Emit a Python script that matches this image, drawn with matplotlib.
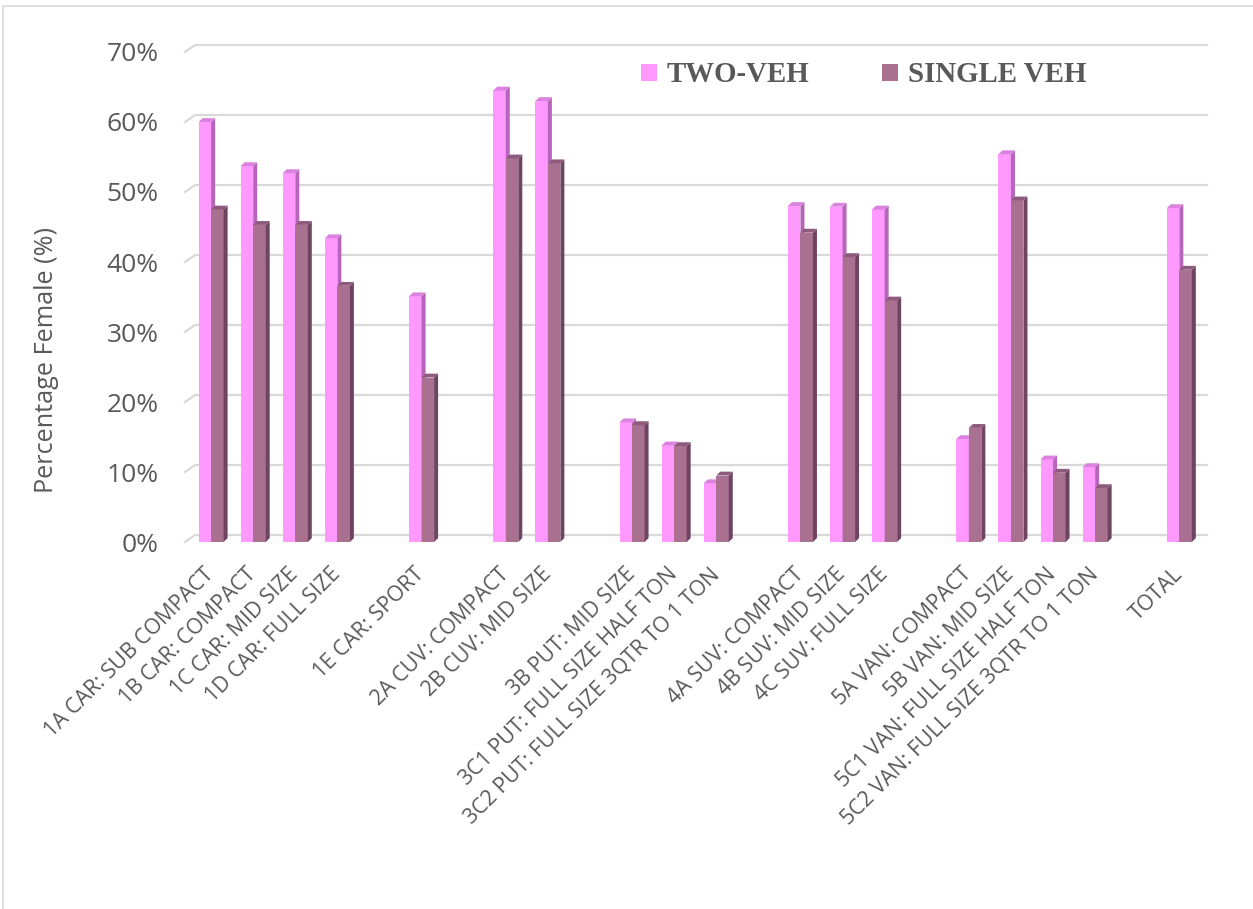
import numpy as np
import matplotlib
matplotlib.use("Agg")
import matplotlib.pyplot as plt
from matplotlib.patches import Polygon, Patch
from matplotlib.lines import Line2D

# categories grouped; one empty slot is left between groups
groups = [
    ["1A CAR: SUB COMPACT", "1B CAR: COMPACT", "1C CAR: MID SIZE", "1D CAR: FULL SIZE"],
    ["1E CAR: SPORT"],
    ["2A CUV: COMPACT", "2B CUV: MID SIZE"],
    ["3B PUT: MID SIZE", "3C1 PUT: FULL SIZE HALF TON", "3C2 PUT: FULL SIZE 3QTR TO 1 TON"],
    ["4A SUV: COMPACT", "4B SUV: MID SIZE", "4C SUV: FULL SIZE"],
    ["5A VAN: COMPACT", "5B VAN: MID SIZE", "5C1 VAN: FULL SIZE HALF TON", "5C2 VAN: FULL SIZE 3QTR TO 1 TON"],
    ["TOTAL"],
]
two_veh = [60.0, 53.7, 52.7, 43.4, 35.1, 64.5, 63.0, 17.1, 13.8, 8.4,
           48.0, 47.9, 47.5, 14.7, 55.4, 11.8, 10.7, 47.7]
single_veh = [47.5, 45.3, 45.3, 36.6, 23.5, 54.8, 54.1, 16.7, 13.7, 9.5,
              44.2, 40.7, 34.5, 16.3, 48.8, 9.9, 7.7, 38.9]
yticks = [0, 10, 20, 30, 40, 50, 60, 70]

labels, pos = [], []
slot = 0
for g in groups:
    for name in g:
        labels.append(name)
        pos.append(slot)
        slot += 1
    slot += 1
pos = np.array(pos, dtype=float)

FONT = "Open Sans"
TXT = "#595959"
GRID = "#D9D9D9"

fig = plt.figure(figsize=(12.53, 9.09), dpi=100)
ax = fig.add_axes([185 / 1253, (909 - 542) / 909, 1012 / 1253, 490 / 909])
x0, x1 = -0.62, 23.42
ax.set_xlim(x0, x1)
ax.set_ylim(0, 70)

# back wall gridlines (3d look)
gdx, gdy = 0.24, 1.0
for v in yticks:
    ax.add_line(Line2D([x0, x0 + gdx, x1 + gdx], [v, v + gdy, v + gdy],
                       color=GRID, lw=1.6, clip_on=False, zorder=1))

bw = 0.297
sdx, sdy = 0.095, 0.55


def bar3d(xl, h, front, side, top, z):
    ax.add_patch(Polygon([[xl, 0], [xl + bw, 0], [xl + bw, h], [xl, h]],
                         closed=True, facecolor=front, edgecolor="none", zorder=z, clip_on=False))
    ax.add_patch(Polygon([[xl + bw, 0], [xl + bw + sdx, sdy], [xl + bw + sdx, h + sdy], [xl + bw, h]],
                         closed=True, facecolor=side, edgecolor="none", zorder=z, clip_on=False))
    ax.add_patch(Polygon([[xl, h], [xl + bw, h], [xl + bw + sdx, h + sdy], [xl + sdx, h + sdy]],
                         closed=True, facecolor=top, edgecolor="none", zorder=z, clip_on=False))


for i, p in enumerate(pos):
    bar3d(p - bw, two_veh[i], "#FF99FF", "#B565BA", "#DA82DD", 3)
    bar3d(p, single_veh[i], "#A9718F", "#6F4462", "#8E5A7C", 4)

for s in ax.spines.values():
    s.set_visible(False)

ax.set_yticks(yticks)
ax.set_yticklabels([f"{v}%" for v in yticks], fontsize=19, color=TXT, family=FONT)
ax.tick_params(axis="y", length=0, pad=19)
ax.set_xticks(pos)
ax.set_xticklabels(labels, rotation=45, ha="right", va="center", rotation_mode="anchor",
                   fontsize=15.4, color=TXT, family=FONT)
ax.tick_params(axis="x", length=0, pad=21)

ax.set_ylabel("Percentage Female (%)", fontsize=18.2, color=TXT, family=FONT)
ax.yaxis.set_label_coords(-0.1245, 0.371)

handles = [Patch(facecolor="#FF99FF", label="TWO-VEH"),
           Patch(facecolor="#A9718F", label="SINGLE VEH")]
fig.legend(handles=handles, loc="center left", bbox_to_anchor=(615 / 1253, 1 - 75 / 909),
           ncol=2, frameon=False, handlelength=0.55, handleheight=0.55, handletextpad=0.35,
           columnspacing=2.5, prop={"family": "Liberation Serif", "weight": "bold", "size": 20.8},
           labelcolor=TXT)

# outer chart border (top and left visible)
fig.add_artist(Line2D([3 / 1253, 3 / 1253, 1], [0, 1 - 6 / 909, 1 - 6 / 909],
                      color=GRID, lw=1.2, transform=fig.transFigure))

fig.savefig("out.png", dpi=100)
